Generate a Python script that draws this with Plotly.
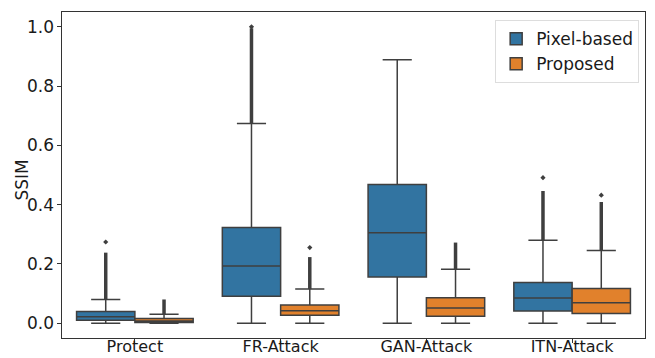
import plotly.graph_objects as go

categories = ["Protect", "FR-Attack", "GAN-Attack", "ITN-Attack"]
series_names = ["Pixel-based", "Proposed"]
colors = ["#3274A1", "#E1812C"]

# per-series box statistics
pix_q1 = [0.010, 0.091, 0.156, 0.041]
pix_median = [0.022, 0.193, 0.305, 0.085]
pix_q3 = [0.039, 0.323, 0.468, 0.137]
pix_low = [0.0, 0.0, 0.0, 0.0]
pix_high = [0.080, 0.674, 0.889, 0.280]
pix_flier_top = [0.238, 0.995, None, 0.446]
pix_flier_isolated = [0.274, 1.0, None, 0.491]

pro_q1 = [0.002, 0.027, 0.023, 0.033]
pro_median = [0.007, 0.042, 0.051, 0.069]
pro_q3 = [0.016, 0.061, 0.086, 0.117]
pro_low = [0.0, 0.0, 0.0, 0.0]
pro_high = [0.030, 0.115, 0.182, 0.245]
pro_flier_top = [0.080, 0.223, 0.272, 0.409]
pro_flier_isolated = [None, 0.255, None, 0.432]

stats = [
    (pix_q1, pix_median, pix_q3, pix_low, pix_high, pix_flier_top, pix_flier_isolated),
    (pro_q1, pro_median, pro_q3, pro_low, pro_high, pro_flier_top, pro_flier_isolated),
]

positions = list(range(len(categories)))
group_width = 0.8
n_hue = len(series_names)
line_col = "#3f3f3f"

fig = go.Figure()
for h, (name, col, st) in enumerate(zip(series_names, colors, stats)):
    q1, med, q3, lo, hi, ftop, fiso = st
    fig.add_trace(go.Box(
        x=positions, q1=q1, median=med, q3=q3, lowerfence=lo, upperfence=hi,
        name=name, fillcolor=col, line=dict(color=line_col, width=1.5),
        whiskerwidth=0.5, boxpoints=False, hoverinfo="skip",
    ))
    offset = -group_width / 2 + group_width / n_hue * (h + 0.5)
    bx, by = [], []
    for i in positions:
        if ftop[i] is not None:
            bx += [i + offset, i + offset, None]
            by += [hi[i], ftop[i], None]
    fig.add_trace(go.Scatter(x=bx, y=by, mode="lines", showlegend=False,
                             line=dict(color=line_col, width=3.5), hoverinfo="skip"))
    ix = [i + offset for i in positions if fiso[i] is not None]
    iy = [fiso[i] for i in positions if fiso[i] is not None]
    fig.add_trace(go.Scatter(x=ix, y=iy, mode="markers", showlegend=False,
                             marker=dict(symbol="diamond", size=4, color=line_col),
                             hoverinfo="skip"))

font = "DejaVu Sans"
fig.update_layout(
    width=655, height=358,
    margin=dict(l=62, r=10, t=12, b=20),
    paper_bgcolor="white", plot_bgcolor="white",
    boxmode="group", boxgap=1 - group_width, boxgroupgap=0,
    font=dict(family=font, size=17, color="#1a1a1a"),
    legend=dict(x=0.99, xanchor="right", y=0.975, yanchor="top",
                bgcolor="rgba(255,255,255,0.9)", bordercolor="#dddddd", borderwidth=1,
                font=dict(size=17), tracegroupgap=2),
    xaxis=dict(range=[-0.5, len(categories) - 0.5], tickmode="array",
               tickvals=positions, ticktext=categories,
               showline=True, mirror=True, linecolor="#333333", linewidth=1.2,
               ticks="outside", ticklen=3.5, tickcolor="#333333",
               showgrid=False, zeroline=False, automargin=False,
               ticklabelstandoff=-10,
               tickfont=dict(size=16)),
    yaxis=dict(range=[-0.05, 1.05], tickvals=[0, 0.2, 0.4, 0.6, 0.8, 1.0],
               tickformat=".1f",
               showline=True, mirror=True, linecolor="#333333", linewidth=1.2,
               ticks="outside", ticklen=3.5, tickcolor="#333333",
               showgrid=False, zeroline=False, automargin=False,
               tickfont=dict(size=17)),
    annotations=[dict(text="SSIM", xref="paper", yref="paper", x=0, y=0.483,
                      xshift=-40, xanchor="center", yanchor="middle",
                      textangle=-90, showarrow=False, font=dict(size=17))],
)

fig.write_html("out.html")
